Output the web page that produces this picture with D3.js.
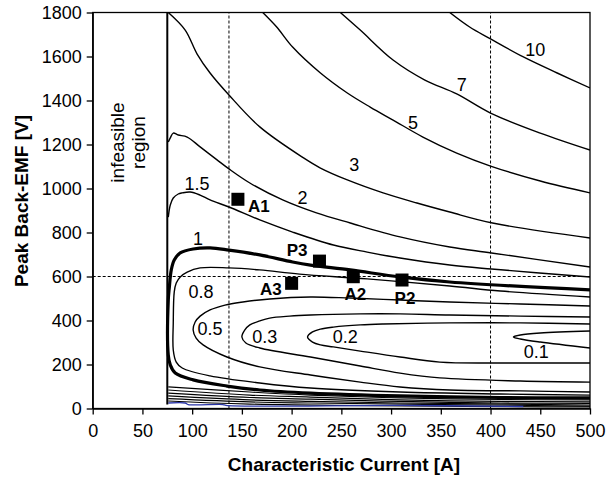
<!DOCTYPE html>
<html><head><meta charset="utf-8">
<script src="https://cdn.jsdelivr.net/npm/d3@7"></script>
<style>
html,body{margin:0;padding:0;background:#fff;}
svg{display:block;font-family:Arial,"Liberation Sans",sans-serif;}
</style></head><body>
<svg id="chart" width="610" height="479"></svg>
<script>
// Axis ticks and titles
const xTicks = [0, 50, 100, 150, 200, 250, 300, 350, 400, 450, 500];
const yTicks = [0, 200, 400, 600, 800, 1000, 1200, 1400, 1600, 1800];
const xTitle = "Characteristic Current [A]";
const yTitle = "Peak Back-EMF [V]";

// Iso-lines: [characteristic current A, peak back-EMF V]
const level10 = [[359,1800],[379,1734],[400,1680],[433,1598],[467,1525],[500,1457]];
const level7 = [[249,1800],[269,1720],[302,1584],[334,1493],[366,1430],[400,1343],[450,1252],[500,1175]];
const level5 = [[171,1800],[185,1734],[201,1643],[229,1525],[256,1434],[279,1370],[302,1311],[332,1234],[366,1161],[400,1102],[450,1034],[500,980]];
const level3 = [[76,1800],[93,1720],[105,1611],[118,1525],[137,1425],[168,1280],[212,1139],[229,1093],[256,1039],[292,980],[326,934],[359,893],[402,843],[500,775]];
const level2 = [[76,1211],[78,1230],[81,1252],[86,1243],[95,1234],[108,1189],[125,1130],[137,1089],[158,1025],[191,948],[225,889],[259,843],[309,780],[359,734],[401,707],[500,643]];
const level1p5 = [[76,870],[78,925],[81,957],[86,975],[90,980],[98,984],[108,970],[118,948],[137,916],[168,857],[201,802],[242,743],[276,711],[309,684],[359,652],[401,634],[500,598]];
const level1 = [[500,539],[359,575],[309,598],[259,630],[219,652],[201,666],[168,698],[137,720],[118,730],[101,725],[88,707],[82,675],[79,630],[77,548],[76,493],[76,243],[78,198],[83,161],[101,130],[135,102],[168,84],[219,70],[309,57],[410,50],[500,48]];
const level0p8 = [[500,507],[410,534],[359,557],[276,589],[208,611],[168,630],[137,639],[108,639],[95,620],[88,598],[84,570],[82,530],[81,389],[81,266],[84,211],[90,184],[118,148],[168,116],[219,93],[309,75],[410,66],[500,61]];
const level0p5 = [[500,466],[430,475],[359,484],[309,493],[259,502],[219,507],[178,498],[151,484],[133,470],[118,448],[108,420],[103,393],[101,357],[104,320],[111,289],[135,234],[168,189],[219,152],[269,120],[309,98],[359,84],[430,80],[500,75]];
const level0p3 = [[500,416],[430,420],[359,425],[309,430],[269,430],[219,425],[198,420],[178,411],[168,398],[158,380],[153,357],[150,325],[154,298],[168,275],[219,234],[269,193],[309,161],[349,139],[430,125],[500,120]];
const level0p2 = [[500,384],[430,389],[359,389],[292,384],[269,380],[242,370],[229,361],[221,348],[216,325],[221,302],[229,289],[242,280],[269,261],[309,234],[349,211],[409,207],[500,207]];
const level0p1 = [[500,352],[450,343],[430,334],[423,325],[430,316],[450,302],[500,275]];
// Lower branches of the higher levels, squeezed against the current axis
const level1p5Low = [[76,98],[158,75],[219,61],[309,48],[410,41],[500,39]];
const level2Low = [[76,84],[158,61],[219,52],[309,39],[410,32],[500,30]];
const level3Low = [[76,70],[158,50],[219,43],[309,32],[410,25],[500,23]];
const level5Low = [[76,57],[158,39],[219,32],[309,25],[500,16]];
const level7Low = [[76,45],[158,30],[219,25],[500,11]];
const level10Low = [[76,34],[158,20],[500,7]];
const bottomTrace = [[76,25],[93,25],[96,18],[131,18],[134,14],[309,14],[433,9]];

// Iso-line labels
const contourLabelText = ["10","7","5","3","2","1.5","1","0.8","0.5","0.3","0.2","0.1"];
const contourLabelCurrent = [445,371,322,263,211,105,106,109,118,173,254,446];
const contourLabelEmf = [1630,1470,1300,1107,957,1020,770,530,364,327,325,257];

// Design points
const pointNames = ["A1","P3","A3","A2","P2"];
const pointCurrent = [146,228,200,262,311];
const pointEmf = [951,670,569,599,584];

// Reference lines and feasibility limit
const guideCurrents = [137, 400];
const guideEmf = [600];
const minCurrent = 75;
const minCurrentEmf = [18, 1800];

// ---------- drawing ----------
const svg = d3.select("#chart");
const padL = 92.7, padR = 590, padT = 12.5, padB = 408.5;
const x = d3.scaleLinear().domain([0, 500]).range([padL, padR]);
const y = d3.scaleLinear().domain([0, 1800]).range([padB, padT]);

svg.append("defs").append("clipPath").attr("id", "plotClip")
  .append("rect").attr("x", padL).attr("y", padT)
  .attr("width", padR - padL).attr("height", padB - padT);

const plot = svg.append("g").attr("clip-path", "url(#plotClip)");

// dashed guides
plot.selectAll("line.gx").data(guideCurrents).join("line")
  .attr("x1", d => x(d)).attr("x2", d => x(d))
  .attr("y1", y(0)).attr("y2", y(1800))
  .attr("stroke", "#000").attr("stroke-width", 1).attr("stroke-dasharray", "3,2");
plot.selectAll("line.gy").data(guideEmf).join("line")
  .attr("y1", d => y(d)).attr("y2", d => y(d))
  .attr("x1", x(0)).attr("x2", x(500))
  .attr("stroke", "#000").attr("stroke-width", 1).attr("stroke-dasharray", "3,2");

const line = d3.line().x(d => x(d[0])).y(d => y(d[1])).curve(d3.curveCatmullRom.alpha(0.5));

const contours = [
  {pts: level10, w: 1.4}, {pts: level7, w: 1.4}, {pts: level5, w: 1.4},
  {pts: level3, w: 1.4}, {pts: level2, w: 1.4}, {pts: level1p5, w: 1.4},
  {pts: level1, w: 3.2}, {pts: level0p8, w: 1.4}, {pts: level0p5, w: 1.4},
  {pts: level0p3, w: 1.4}, {pts: level0p2, w: 1.4}, {pts: level0p1, w: 1.4},
  {pts: level1p5Low, w: 1.2}, {pts: level2Low, w: 1.2}, {pts: level3Low, w: 1.2},
  {pts: level5Low, w: 1.2}, {pts: level7Low, w: 1.2}, {pts: level10Low, w: 1.2},
  {pts: bottomTrace, w: 1.3, c: "#2a35a8"}
];
plot.selectAll("path.iso").data(contours).join("path")
  .attr("class", "iso")
  .attr("d", d => line(d.pts))
  .attr("fill", "none")
  .attr("stroke", d => d.c || "#000")
  .attr("stroke-width", d => d.w)
  .attr("stroke-linejoin", "round");

// feasibility limit
plot.append("line")
  .attr("x1", x(minCurrent)).attr("x2", x(minCurrent))
  .attr("y1", y(minCurrentEmf[0])).attr("y2", y(minCurrentEmf[1]))
  .attr("stroke", "#000").attr("stroke-width", 2);

// iso-line labels
svg.append("g").selectAll("text").data(contourLabelText).join("text")
  .attr("x", (d, i) => x(contourLabelCurrent[i]))
  .attr("y", (d, i) => y(contourLabelEmf[i]))
  .attr("dy", "0.35em")
  .attr("text-anchor", "middle")
  .attr("font-size", 18)
  .attr("fill", "#000")
  .text(d => d);

// design points
const sq = 13;
svg.append("g").selectAll("rect").data(pointNames).join("rect")
  .attr("x", (d, i) => x(pointCurrent[i]) - sq / 2)
  .attr("y", (d, i) => y(pointEmf[i]) - sq / 2)
  .attr("width", sq).attr("height", sq).attr("fill", "#000");

const pointLabelPlacement = {
  A1: {dx: 10, dy: 13, anchor: "start"},
  P3: {dx: -12, dy: -5, anchor: "end"},
  A3: {dx: -10, dy: 12, anchor: "end"},
  A2: {dx: 2, dy: 23, anchor: "middle"},
  P2: {dx: 3, dy: 23.5, anchor: "middle"}
};
svg.append("g").selectAll("text").data(pointNames).join("text")
  .attr("x", (d, i) => x(pointCurrent[i]) + pointLabelPlacement[d].dx)
  .attr("y", (d, i) => y(pointEmf[i]) + pointLabelPlacement[d].dy)
  .attr("text-anchor", d => pointLabelPlacement[d].anchor)
  .attr("font-size", 17).attr("font-weight", "bold")
  .text(d => d);

// infeasible region note
const note = svg.append("text")
  .attr("transform", "translate(124,142.5) rotate(-90)")
  .attr("text-anchor", "middle").attr("font-size", 19);
note.append("tspan").attr("x", 0).attr("y", 0).text("infeasible");
note.append("tspan").attr("x", 0).attr("y", 21).text("region");

// frame
svg.append("rect").attr("x", padL).attr("y", padT)
  .attr("width", padR - padL).attr("height", padB - padT)
  .attr("fill", "none").attr("stroke", "#000").attr("stroke-width", 1.3);

// axes
const xAxis = svg.append("g").attr("transform", `translate(0,${padB})`)
  .call(d3.axisBottom(x).tickValues(xTicks).tickFormat(d3.format("d"))
    .tickSize(6).tickSizeOuter(0).tickPadding(9.5));
const yAxis = svg.append("g").attr("transform", `translate(${padL},0)`)
  .call(d3.axisLeft(y).tickValues(yTicks).tickFormat(d3.format("d"))
    .tickSize(6).tickSizeOuter(0).tickPadding(5));
[xAxis, yAxis].forEach(g => {
  g.selectAll("path, line").attr("stroke", "#000").attr("stroke-width", 1.3);
  g.selectAll("text").attr("font-size", 18).attr("fill", "#000")
    .attr("font-family", "Arial, 'Liberation Sans', sans-serif");
});

// axis titles
svg.append("text").attr("x", 344).attr("y", 471)
  .attr("text-anchor", "middle").attr("font-size", 19).attr("font-weight", "bold")
  .text(xTitle);
svg.append("text").attr("transform", "translate(27.5,201) rotate(-90)")
  .attr("text-anchor", "middle").attr("font-size", 19).attr("font-weight", "bold")
  .text(yTitle);
</script>
</body></html>
